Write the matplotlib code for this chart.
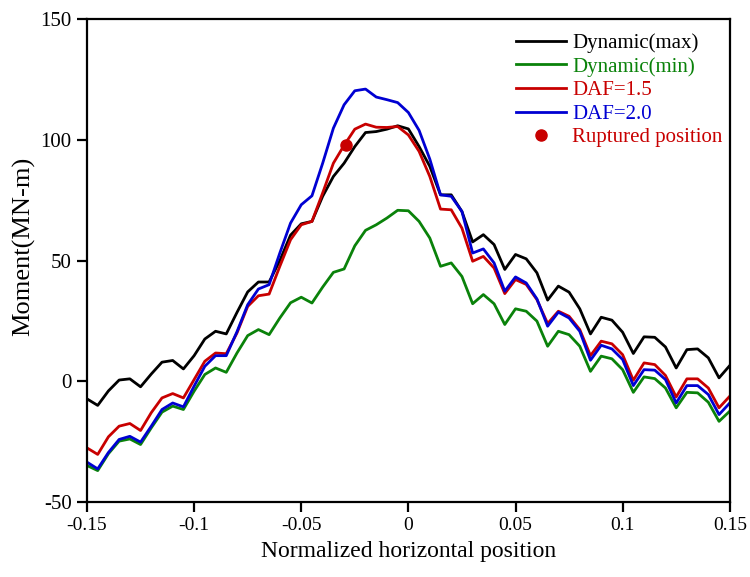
import numpy as np
import matplotlib
matplotlib.use("Agg")
import matplotlib.pyplot as plt

plt.rcParams['font.family'] = ['Liberation Serif', 'DejaVu Serif']

# Normalized horizontal positions (step 0.005)
x_pos = [round(-0.15 + 0.005 * i, 3) for i in range(61)]

dyn_max = [-7.3, -10, -4, 0.5, 1, -2.3, 3, 7.9, 8.6, 5.1,
           10.6, 17.5, 20.7, 19.6, 28.5, 37, 41.1, 41.1, 50, 60.5,
           65.2, 66.2, 76.6, 84.8, 90.3, 97.2, 103, 103.4, 104.4, 105.8,
           104.5, 97.2, 89, 77.2, 77.2, 70.3, 57.7, 60.7, 56.6, 46.3,
           52.5, 50.7, 44.9, 33.6, 39.4, 36.9, 30, 19.6, 26.5, 25.3,
           20.3, 11.5, 18.4, 18.2, 14.2, 5.5, 13.1, 13.4, 9.7, 1.4,
           6.5]

dyn_min = [-34.9, -37, -30, -24.8, -23.9, -26.2, -19.3, -12.8, -10.3, -11.7,
           -4.1, 2.8, 5.5, 3.7, 11.7, 18.9, 21.4, 19.3, 26.2, 32.5,
           34.8, 32.4, 39, 45.1, 46.5, 56.1, 62.5, 64.8, 67.6, 70.8,
           70.6, 66.2, 59.3, 47.6, 49, 43.4, 32.1, 35.9, 32.1, 23.5,
           30, 29, 24.9, 14.5, 20.7, 19.3, 14.5, 4.1, 10.4, 9.3,
           4.8, -4.6, 1.8, 1.1, -2.8, -11, -4.6, -4.8, -8.7, -16.6,
           -12.4]

daf_15 = [-27.6, -30.3, -23, -18.6, -17.5, -20.4, -13, -6.9, -5.1, -6.9,
          0.7, 8.3, 11.7, 11.4, 20, 31, 35.4, 36.1, 47.6, 58.6,
          64.8, 66.2, 78, 90.3, 97.7, 104.4, 106.5, 105.2, 105.1, 105.5,
          102, 95.2, 84.8, 71.3, 71, 63.4, 49.7, 51.7, 46.9, 36.3,
          42.1, 40.1, 33.8, 23.9, 29, 26.9, 21.4, 10.6, 16.6, 15.5,
          11, 0.4, 7.6, 6.9, 2.4, -6.5, 1, 1, -2.8, -11,
          -6.2]

daf_20 = [-33.5, -36.3, -29.5, -24.1, -22.8, -25.2, -18.6, -11.7, -9, -10.6,
          -2, 6.2, 10.6, 10.6, 20.5, 31.7, 38.2, 40, 53.1, 65.5,
          73.1, 76.8, 90.3, 104.8, 114.5, 120.3, 121, 117.7, 116.6, 115.4,
          111.3, 103.9, 92, 77.2, 76.6, 70.3, 53.1, 54.8, 49, 37.3,
          43.2, 40.7, 34.1, 22.8, 28.6, 26.2, 20.7, 8.7, 14.9, 13.4,
          9, -1.8, 4.8, 4.6, 0.7, -9, -1.8, -1.8, -5.5, -13.8,
          -9]

rupture_x = [-0.029]
rupture_y = [97.8]

x_ticks = [-0.15, -0.1, -0.05, 0, 0.05, 0.1, 0.15]
x_tick_labels = ['-0.15', '-0.1', '-0.05', '0', '0.05', '0.1', '0.15']
y_ticks = [-50, 0, 50, 100, 150]
y_tick_labels = ['-50', '0', '50', '100', '150']

c_black = '#000000'
c_green = '#0a820a'
c_red = '#c80000'
c_blue = '#0000d2'

fig = plt.figure(figsize=(7.5, 5.77), dpi=100)
ax = fig.add_axes([0.116, 0.130, 0.857, 0.837])

lw = 2.0
ax.plot(x_pos, dyn_max, color=c_black, lw=lw, label='Dynamic(max)')
ax.plot(x_pos, dyn_min, color=c_green, lw=lw, label='Dynamic(min)')
ax.plot(x_pos, daf_15, color=c_red, lw=lw, label='DAF=1.5')
ax.plot(x_pos, daf_20, color=c_blue, lw=lw, label='DAF=2.0')
ax.plot(rupture_x, rupture_y, 'o', color=c_red, ms=8, label='Ruptured position', zorder=5)

ax.set_xlim(-0.15, 0.15)
ax.set_ylim(-50, 150)
ax.set_xticks(x_ticks)
ax.set_xticklabels(x_tick_labels)
ax.set_yticks(y_ticks)
ax.set_yticklabels(y_tick_labels)

for sp in ax.spines.values():
    sp.set_linewidth(1.6)
ax.tick_params(axis='both', direction='out', length=7, width=1.6,
               pad=4, top=False, right=False)
ax.tick_params(axis='x', labelsize=14)
ax.tick_params(axis='y', labelsize=15, pad=4)

ax.set_xlabel('Normalized horizontal position', fontsize=17, labelpad=5)
ax.set_ylabel('Moment(MN-m)', fontsize=19)
ax.yaxis.set_label_coords(-0.080, 0.53)

leg = ax.legend(loc='upper right', bbox_to_anchor=(1.005, 0.992), frameon=False, fontsize=15,
                handlelength=2.4, handletextpad=0.3, labelspacing=0.19,
                borderaxespad=0.3, borderpad=0.2)
for text, col in zip(leg.get_texts(), [c_black, c_green, c_red, c_blue, c_red]):
    text.set_color(col)

fig.savefig('out.png', dpi=100)
